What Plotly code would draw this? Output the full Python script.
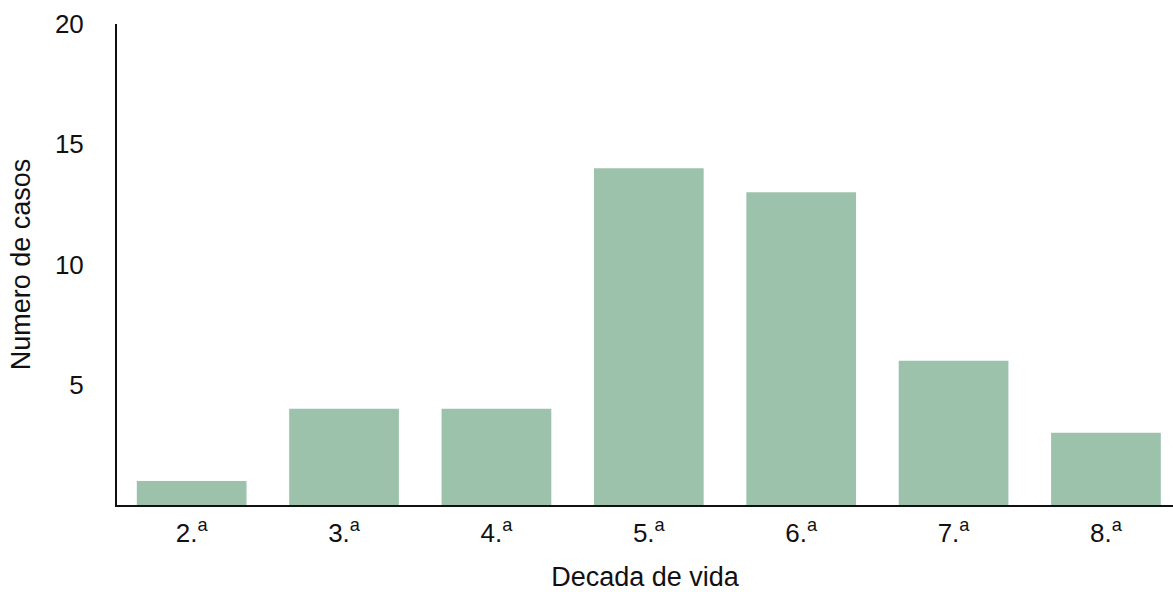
import plotly.graph_objects as go

# Cases per decade of life
decadas = ["2.", "3.", "4.", "5.", "6.", "7.", "8."]
casos = [1, 4, 4, 14, 13, 6, 3]
y_ticks = [5, 10, 15, 20]

etiquetas = [d + "<sup>a</sup>" for d in decadas]

fig = go.Figure(
    go.Bar(
        x=etiquetas,
        y=casos,
        marker=dict(color="#9cc2ac", line=dict(width=0)),
        width=0.72,
    )
)

font_family = "Liberation Sans, Arial, Helvetica, sans-serif"

fig.update_layout(
    width=1173,
    height=592,
    margin=dict(l=117, r=0, t=24, b=87),
    plot_bgcolor="white",
    paper_bgcolor="white",
    font=dict(family=font_family, size=26, color="#111111"),
    showlegend=False,
    xaxis=dict(
        range=[-0.49, 6.44],
        showline=True,
        linecolor="#111111",
        linewidth=2,
        showgrid=False,
        ticks="",
        tickfont=dict(size=26),
        ticklabelstandoff=4,
        title=dict(text="Decada de vida", font=dict(size=27), standoff=22),
    ),
    yaxis=dict(
        range=[0, 20],
        tickvals=y_ticks,
        showline=True,
        linecolor="#111111",
        linewidth=2,
        showgrid=False,
        zeroline=False,
        ticks="",
        tickfont=dict(size=26),
        ticklabelstandoff=26,
        title=dict(text="Numero de casos", font=dict(size=27), standoff=16),
    ),
)

fig.write_html("out.html")
